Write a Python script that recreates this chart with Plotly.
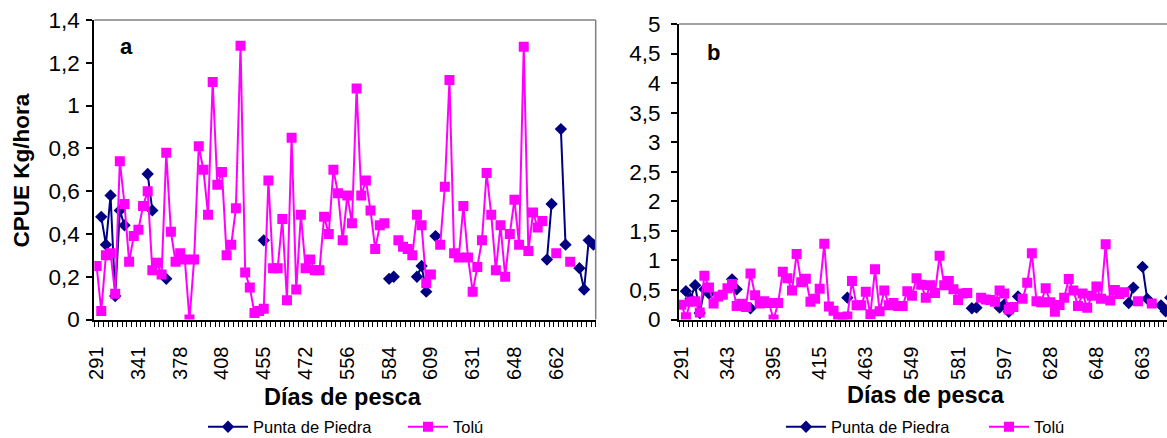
import plotly.graph_objects as go

# ---------------- data ----------------
# sampling order (category index) of fishing days
n_dias = 108
dias = list(range(n_dias))

# tick labels (day numbers) shown under each panel, every 9th / 10th category
tick_step_a = 9
tick_labels_a = ["291", "341", "378", "408", "455", "472", "556", "584", "609", "631", "648", "662"]
tick_step_b = 10
tick_labels_b = ["291", "343", "395", "415", "463", "549", "581", "597", "628", "648", "663"]

# CPUE (kg/hora) - Tolú
tolu = [
    0.25, 0.04, 0.30, 0.31, 0.12, 0.74, 0.54, 0.27, 0.39, 0.42,   # 0-9
    0.53, 0.60, 0.23, 0.265, 0.21, 0.78, 0.41, 0.27, 0.31, 0.28,  # 10-19
    0.00, 0.28, 0.81, 0.70, 0.49, 1.11, 0.63, 0.69, 0.30, 0.35,   # 20-29
    0.52, 1.28, 0.22, 0.15, 0.03, 0.04, 0.05, 0.65, 0.24, 0.24,   # 30-39
    0.47, 0.09, 0.85, 0.14, 0.49, 0.24, 0.28, 0.23, 0.23, 0.48,   # 40-49
    0.40, 0.70, 0.59, 0.37, 0.58, 0.45, 1.08, 0.58, 0.65, 0.51,   # 50-59
    0.33, 0.44, 0.45, None, None, 0.37, 0.34, 0.33, 0.30, 0.49,   # 60-69
    0.44, 0.17, 0.21, None, 0.35, 0.62, 1.12, 0.31, 0.29, 0.53,   # 70-79
    0.29, 0.13, 0.245, 0.37, 0.685, 0.49, 0.23, 0.44, 0.20, 0.40, # 80-89
    0.56, 0.35, 1.275, 0.32, 0.50, 0.43, 0.46, None, None, 0.31,  # 90-99
    None, None, 0.27, None, None, None, None, None,               # 100-107
]

# CPUE (kg/hora) - Punta de Piedra
punta = [None] * n_dias
punta_obs = {
    1: 0.48, 2: 0.35, 3: 0.58, 4: 0.11, 5: 0.51, 6: 0.44,
    11: 0.68, 12: 0.51, 15: 0.19, 36: 0.37, 63: 0.19, 64: 0.20,
    69: 0.20, 70: 0.25, 71: 0.13, 73: 0.39,
    97: 0.28, 98: 0.54, 100: 0.89, 101: 0.35,
    104: 0.24, 105: 0.14, 106: 0.37, 107: 0.35,
}
for k, v in punta_obs.items():
    punta[k] = v

ytick_a = [0, 0.2, 0.4, 0.6, 0.8, 1.0, 1.2, 1.4]
ytick_b = [0, 0.5, 1, 1.5, 2, 2.5, 3, 3.5, 4, 4.5, 5]

# ---------------- styling ----------------
W, H = 1167, 438
PINK = "#FF00FF"
NAVY = "#000080"
FONT = "Liberation Sans, Arial, sans-serif"


def px_x(x):
    return x / W


def px_y(y):
    return 1 - y / H


def ylab(v):
    return ("%g" % v).replace(".", ",")


fig = go.Figure()

panels = [
    dict(xa="x", ya="y", leg1="legend", leg2="legend2"),
    dict(xa="x2", ya="y2", leg1="legend3", leg2="legend4"),
]

for p in panels:
    fig.add_trace(go.Scatter(
        x=dias, y=punta, name="Punta de Piedra", mode="lines+markers",
        line=dict(color=NAVY, width=2), connectgaps=False,
        marker=dict(symbol="diamond", size=9.5, color=NAVY),
        xaxis=p["xa"], yaxis=p["ya"], legend=p["leg1"],
    ))
    fig.add_trace(go.Scatter(
        x=dias, y=tolu, name="Tolú", mode="lines+markers",
        line=dict(color=PINK, width=2), connectgaps=False,
        marker=dict(symbol="square", size=10, color=PINK),
        xaxis=p["xa"], yaxis=p["ya"], legend=p["leg2"],
    ))

tickfont_x = dict(family=FONT, size=20, color="black")
tickfont_y = dict(family=FONT, size=22.5, color="black")

common_x = dict(
    showgrid=False, zeroline=False, showline=True, linecolor="black", linewidth=2,
    ticks="outside", ticklen=17, tickcolor="rgba(0,0,0,0)",
    tickangle=-90, tickfont=tickfont_x,
    minor=dict(ticks="outside", ticklen=5, tickwidth=1, tickcolor="black",
               tickmode="linear", tick0=-0.5, dtick=1),
    fixedrange=True,
)
common_y = dict(
    showgrid=False, zeroline=False, showline=True, linecolor="black", linewidth=2,
    ticks="outside", ticklen=6, tickwidth=1.5, tickcolor="black",
    tickfont=tickfont_y, fixedrange=True,
)

fig.update_layout(
    width=W, height=H,
    margin=dict(l=0, r=0, t=0, b=0, autoexpand=False),
    paper_bgcolor="white", plot_bgcolor="white",
    font=dict(family=FONT, color="black"),
    xaxis=dict(common_x, domain=[px_x(94.3), px_x(595.7)], range=[-0.5, n_dias - 0.5],
               tickmode="array", tickvals=dias[::tick_step_a][:len(tick_labels_a)],
               ticktext=tick_labels_a, anchor="y"),
    yaxis=dict(common_y, domain=[px_y(319.5), px_y(20)], range=[0, 1.4],
               tickmode="array", tickvals=ytick_a, ticktext=[ylab(v) for v in ytick_a],
               ticklabelstandoff=2, anchor="x"),
    xaxis2=dict(common_x, domain=[px_x(679), 1.0], range=[-0.5, 105.3],
                tickmode="array", tickvals=dias[::tick_step_b][:len(tick_labels_b)],
                ticktext=tick_labels_b, anchor="y2"),
    yaxis2=dict(common_y, domain=[px_y(319.5), px_y(24)], range=[0, 5],
                tickmode="array", tickvals=ytick_b, ticktext=[ylab(v) for v in ytick_b],
                ticklabelstandoff=6, anchor="x2"),
    showlegend=True,
)

legfont = dict(family=FONT, size=16.5, color="black")
leg_y = px_y(427)
leg_common = dict(y=leg_y, xanchor="left", yanchor="middle", font=legfont,
                  bgcolor="rgba(0,0,0,0)", orientation="h", itemwidth=40)
fig.update_layout(
    legend=dict(leg_common, x=px_x(203)),
    legend2=dict(leg_common, x=px_x(403)),
    legend3=dict(leg_common, x=px_x(781)),
    legend4=dict(leg_common, x=px_x(984)),
)

# plot-area borders (top/right) in grey
border = dict(color="#808080", width=1.5)
fig.add_shape(type="line", xref="x domain", yref="y domain", x0=0, x1=1, y0=1, y1=1, line=border)
fig.add_shape(type="line", xref="x domain", yref="y domain", x0=1, x1=1, y0=0, y1=1, line=border)
fig.add_shape(type="line", xref="x2 domain", yref="y2 domain", x0=0, x1=1, y0=1, y1=1, line=border)

annots = [
    dict(text="<b>CPUE Kg/hora</b>", x=px_x(20.5), y=px_y(171), textangle=-90, size=22.5),
    dict(text="<b>Días de pesca</b>", x=px_x(343), y=px_y(397), textangle=0, size=23.5),
    dict(text="<b>Días de pesca</b>", x=px_x(926), y=px_y(395), textangle=0, size=23.5),
    dict(text="<b>a</b>", x=px_x(126), y=px_y(46.5), textangle=0, size=22),
    dict(text="<b>b</b>", x=px_x(713.5), y=px_y(53), textangle=0, size=22),
]
for a in annots:
    fig.add_annotation(text=a["text"], x=a["x"], y=a["y"], xref="paper", yref="paper",
                       xanchor="center", yanchor="middle", showarrow=False,
                       textangle=a["textangle"],
                       font=dict(family=FONT, size=a["size"], color="black"))

fig.write_html("out.html")
